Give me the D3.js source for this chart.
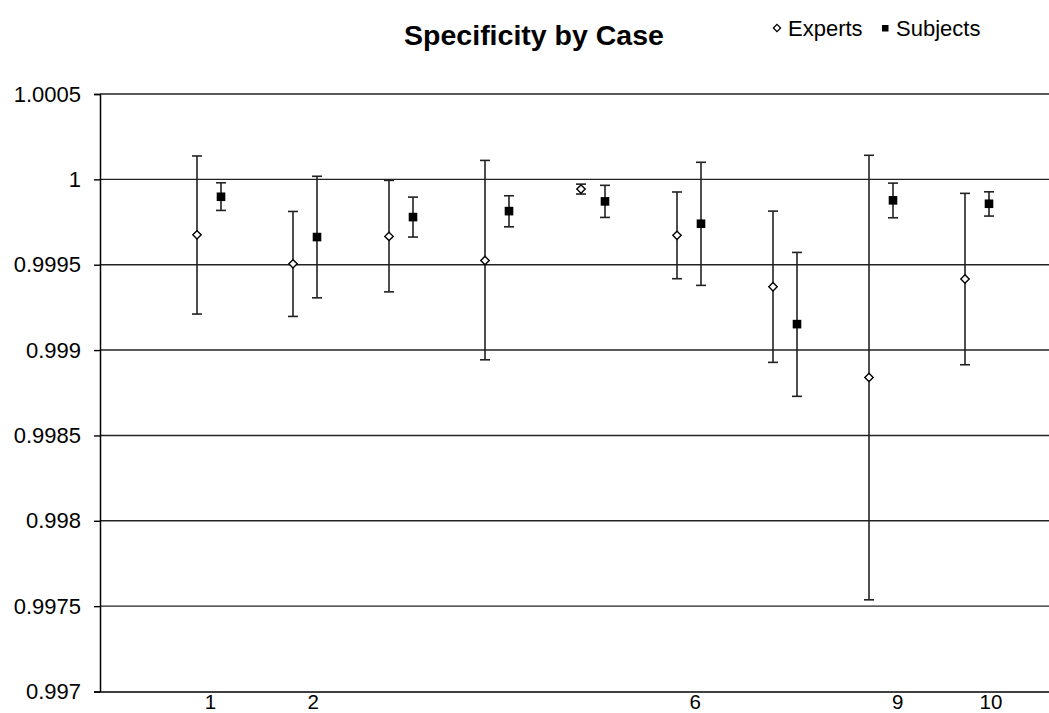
<!DOCTYPE html>
<html>
<head>
<meta charset="utf-8">
<script src="https://cdn.jsdelivr.net/npm/d3@7"></script>
<style>
  html, body { margin: 0; padding: 0; background: #fff; }
  svg { display: block; font-family: "Liberation Sans", Arial, sans-serif; }
</style>
</head>
<body>
<svg id="chart" width="1049" height="713"></svg>
<script>
// ---- Data ----
const cases = [1, 2, 3, 4, 5, 6, 7, 8, 9];
const expertMean = [0.999675, 0.999505, 0.999666, 0.999525, 0.999943, 0.999672, 0.999371, 0.998840, 0.999416];
const expertHigh = [1.000137, 0.999812, 0.999994, 1.000111, 0.999972, 0.999926, 0.999814, 1.000141, 0.999918];
const expertLow  = [0.999211, 0.999197, 0.999341, 0.998943, 0.999914, 0.999418, 0.998928, 0.997537, 0.998914];
const subjectMean = [0.999898, 0.999662, 0.999779, 0.999814, 0.999871, 0.999740, 0.999152, 0.999877, 0.999857];
const subjectHigh = [0.999980, 1.000018, 0.999896, 0.999904, 0.999965, 1.000100, 0.999572, 0.999978, 0.999927];
const subjectLow  = [0.999818, 0.999306, 0.999662, 0.999722, 0.999777, 0.999379, 0.998729, 0.999775, 0.999785];
const yTicks = [0.997, 0.9975, 0.998, 0.9985, 0.999, 0.9995, 1, 1.0005];
const xTickLabels = ["1", "2", "6", "9", "10"];
const xTickValues = [1.01, 2.08, 6.06, 8.17, 9.14];
const seriesNames = ["Experts", "Subjects"];
const chartTitle = "Specificity by Case";

// ---- Layout ----
const plotLeft = 100, plotRight = 1049, plotTop = 94, plotBottom = 691.5;
const svg = d3.select("#chart");

const x = d3.scaleLinear().domain([-0.1354, 9.75]).range([plotLeft, plotRight]);
const y = d3.scaleLinear().domain([0.997, 1.0005]).range([plotBottom, plotTop]);
const off = 0.125;

// gridlines
svg.append("g")
  .selectAll("line").data(yTicks.filter(v => v > 0.997)).join("line")
  .attr("x1", plotLeft).attr("x2", plotRight)
  .attr("y1", d => y(d)).attr("y2", d => y(d))
  .attr("stroke", "#222").attr("stroke-width", 1.4);

// y axis
const yAxis = d3.axisLeft(y).tickValues(yTicks).tickSize(6).tickPadding(13)
  .tickFormat(d => String(+d.toFixed(4)));
const gy = svg.append("g").attr("transform", `translate(${plotLeft},0)`).call(yAxis);
gy.select(".domain").attr("stroke", "#000").attr("stroke-width", 1.5);
gy.selectAll(".tick line").attr("stroke", "#000").attr("stroke-width", 1.4);
gy.selectAll(".tick text").attr("font-size", 22).attr("fill", "#000")
  .attr("font-family", "'Liberation Sans', Arial, sans-serif");

// x axis
const xAxis = d3.axisBottom(x).tickValues(xTickValues).tickSize(0).tickPadding(3)
  .tickFormat((d, i) => xTickLabels[i]);
const gx = svg.append("g").attr("transform", `translate(0,${plotBottom})`).call(xAxis);
gx.select(".domain").attr("stroke", "#000").attr("stroke-width", 1.5);
gx.selectAll(".tick text").attr("font-size", 20.5).attr("fill", "#000")
  .attr("font-family", "'Liberation Sans', Arial, sans-serif");

// error bars
function errorBars(cls, dx, lows, highs) {
  const g = svg.append("g").attr("class", cls);
  const cap = 5;
  cases.forEach((c, i) => {
    const cx = x(c + dx);
    g.append("line").attr("x1", cx).attr("x2", cx)
      .attr("y1", y(lows[i])).attr("y2", y(highs[i]))
      .attr("stroke", "#222").attr("stroke-width", 1.6);
    [lows[i], highs[i]].forEach(v => {
      g.append("line").attr("x1", cx - cap).attr("x2", cx + cap)
        .attr("y1", y(v)).attr("y2", y(v))
        .attr("stroke", "#222").attr("stroke-width", 1.6);
    });
  });
}
errorBars("exp-err", -off, expertLow, expertHigh);
errorBars("sub-err", off, subjectLow, subjectHigh);

// markers
const diamond = r => `M0,${-r}L${r},0L0,${r}L${-r},0Z`;
svg.append("g").selectAll("path").data(cases).join("path")
  .attr("d", diamond(4.2))
  .attr("transform", (d, i) => `translate(${x(d - off)},${y(expertMean[i])})`)
  .attr("fill", "#fff").attr("stroke", "#000").attr("stroke-width", 1.4);
svg.append("g").selectAll("rect").data(cases).join("rect")
  .attr("x", d => x(d + off) - 4.3).attr("width", 8.6)
  .attr("y", (d, i) => y(subjectMean[i]) - 4.3).attr("height", 8.6)
  .attr("fill", "#000");

// title
svg.append("text").attr("x", 534).attr("y", 45).attr("text-anchor", "middle")
  .attr("font-size", 28.5).attr("font-weight", "bold").attr("fill", "#000")
  .text(chartTitle);

// legend
const lg = svg.append("g");
lg.append("path").attr("d", diamond(3.6)).attr("transform", "translate(777,28)")
  .attr("fill", "#fff").attr("stroke", "#000").attr("stroke-width", 1.3);
lg.append("text").attr("x", 788).attr("y", 35.5).attr("font-size", 22).attr("fill", "#000").text(seriesNames[0]);
lg.append("rect").attr("x", 882).attr("y", 25).attr("width", 6.5).attr("height", 6.5).attr("fill", "#000");
lg.append("text").attr("x", 896).attr("y", 35.5).attr("font-size", 22).attr("fill", "#000").text(seriesNames[1]);
</script>
</body>
</html>
